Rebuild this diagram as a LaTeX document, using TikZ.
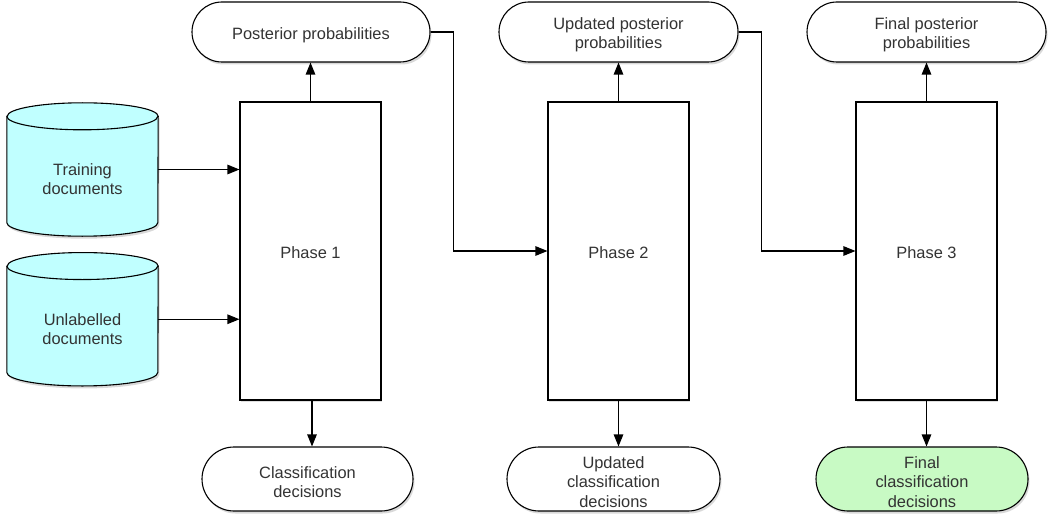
\documentclass[tikz,border=0pt]{standalone}
\usepackage{fontspec}
\setmainfont{Liberation Sans}
\usetikzlibrary{arrows.meta,shadows,backgrounds}
\definecolor{cylfill}{RGB}{192,255,255}
\definecolor{finalfill}{RGB}{200,250,196}
\definecolor{txt}{RGB}{51,51,51}
\begin{document}
\begin{tikzpicture}[x=1pt,y=-1pt,
  every node/.style={font=\fontsize{16.4}{19.5}\selectfont, text=txt, align=center, inner sep=0pt},
  shad/.style={drop shadow={shadow xshift=1.5pt,shadow yshift=-2.5pt,opacity=0.3}},
  phasebox/.style={draw, line width=1.1pt, minimum width=141pt, minimum height=298pt, fill=white, drop shadow={shadow xshift=1pt,shadow yshift=-1.5pt,opacity=0.25}},
  pill/.style={draw, line width=1.1pt, fill=white, shad, minimum width=#1},
  toppill/.style={pill=#1, minimum height=60pt, rounded corners=30pt},
  botpill/.style={pill=#1, minimum height=64pt, rounded corners=32pt},
  lbl/.style={yshift=-3pt},
  cylbody/.style={minimum width=151pt, minimum height=106pt},
  cylshape/.style={draw, line width=1.1pt, fill=cylfill, shad},
  conn/.style={line width=1.1pt, -{Triangle[length=12pt,width=9.5pt]}},
]
\useasboundingbox (0,0) rectangle (1059,524);

% cylinders
\node[cylbody] (train) at (82.5,169.5) {};
\node[cylbody] (unlab) at (82.5,319.25) {};
\begin{scope}[on background layer]
\foreach \c in {train,unlab}{
  \path[cylshape] (\c.north west) -- (\c.south west)
     arc[start angle=180,end angle=360,x radius=75.5pt,y radius=13.5pt]
     -- (\c.north east)
     arc[start angle=0,end angle=180,x radius=75.5pt,y radius=13.5pt] -- cycle;
  \draw[line width=1.1pt] (\c.north west) arc[start angle=180,end angle=360,x radius=75.5pt,y radius=13.5pt];
}
\end{scope}
\node (trainlbl) at (82.5,179) {Training\\documents};
\node (unlablbl) at (82.5,329) {Unlabelled\\documents};

% phases
\node[phasebox, label={[name=p1t,lbl,yshift=1pt]center:Phase 1}] (p1) at (310.5,251) {};
\node[phasebox, label={[name=p2t,lbl,yshift=1pt]center:Phase 2}] (p2) at (618.5,251) {};
\node[phasebox, label={[name=p3t,lbl,yshift=1pt]center:Phase 3}] (p3) at (926.5,251) {};

% top pills
\node[toppill=238pt, label={[name=post1t,lbl]center:Posterior probabilities}] (post1) at (311,32) {};
\node[toppill=239pt, label={[name=post2t,lbl]center:Updated posterior\\probabilities}] (post2) at (618.5,32) {};
\node[toppill=239pt, label={[name=post3t,lbl]center:Final posterior\\probabilities}] (post3) at (926.5,32) {};

% bottom pills
\node[botpill=211pt, label={[name=dec1t,lbl]center:Classification\\decisions}] (dec1) at (307.5,479) {};
\node[botpill=213pt, label={[name=dec2t,lbl]center:Updated\\classification\\decisions}] (dec2) at (613.5,479) {};
\node[botpill=212pt, fill=finalfill, label={[name=dec3t,lbl]center:Final\\classification\\decisions}] (dec3) at (922,479) {};

% connectors
\draw[conn] (train.east) -- (train.east -| p1.west);
\draw[conn] (unlab.east) -- (unlab.east -| p1.west);
\draw[conn] (p1.north) -- (p1.north |- post1.south);
\draw[conn] (p2.north) -- (p2.north |- post2.south);
\draw[conn] (p3.north) -- (p3.north |- post3.south);
\draw[conn] ([xshift=1.5pt]p1.south) -- ([xshift=1.5pt]p1.south |- dec1.north);
\draw[conn] (p2.south) -- (p2.south |- dec2.north);
\draw[conn] (p3.south) -- (p3.south |- dec3.north);
\draw[conn] (post1.east) -- ++(23,0) |- (p2.west);
\draw[conn] (post2.east) -- ++(23,0) |- (p3.west);
\end{tikzpicture}
\end{document}
